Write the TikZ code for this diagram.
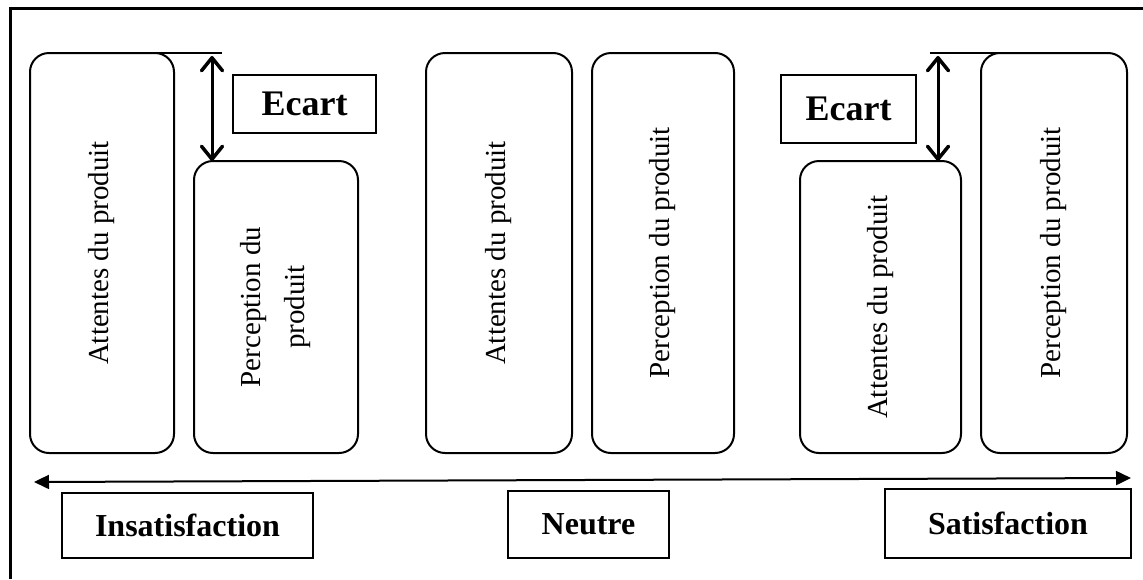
\documentclass[tikz,border=0pt]{standalone}
\usepackage{fontspec}
\setmainfont{Liberation Serif}
\usetikzlibrary{arrows.meta}
\begin{document}
\begin{tikzpicture}[x=1pt, y=-1pt,
  pill/.style={draw, line width=2pt, rounded corners=19pt, rotate=90,
    inner sep=0pt, align=center, font=\fontsize{29}{44}\selectfont},
  tag/.style={draw, line width=2pt, inner sep=0pt,
    font=\bfseries\fontsize{32}{38}\selectfont},
  gaptag/.style={tag, font=\bfseries\fontsize{36}{42}\selectfont},
  barb/.tip={Straight Barb[length=13pt,width=21pt,line width=3.5pt 0 0, round]},
  gap/.style={line width=3pt, barb-barb},
  axis/.style={line width=2pt,
    {Triangle[length=15pt,width=14pt]}-{Triangle[length=15pt,width=14pt]}},
  level/.style={line width=2pt}]
\useasboundingbox (0,0) rectangle (1143,579);

% frame (top and left edges)
\draw[line width=3pt, line join=miter] (1143,8.5) -- (10,8.5) -- (10,579);

% product boxes
\node[pill, minimum width=400pt, minimum height=144pt] (att1) at (102,253) {Attentes du produit};
\node[pill, minimum width=292pt, minimum height=164pt] (per1) at (276,307) {Perception du\\produit};
\node[pill, minimum width=400pt, minimum height=146pt] (att2) at (499,253) {Attentes du produit};
\node[pill, minimum width=400pt, minimum height=142pt] (per2) at (663,253) {Perception du produit};
\node[pill, minimum width=292pt, minimum height=161pt] (att3) at (880.5,307) {Attentes du produit};
\node[pill, minimum width=400pt, minimum height=146pt] (per3) at (1054,253) {Perception du produit};

% gap labels
\node[gaptag, minimum width=143pt, minimum height=58pt] (ecart1) at (304.5,104) {Ecart};
\node[gaptag, minimum width=135pt, minimum height=68pt] (ecart2) at (848.5,109) {Ecart};

% reference levels and gap arrows
\coordinate (l1a) at (145,53);
\coordinate (l1b) at (222,53);
\coordinate (l2a) at (930,53);
\coordinate (l2b) at (1007,53);
\draw[level] (l1a) -- (l1b);
\draw[level] (l2a) -- (l2b);
\coordinate (g1top) at (212,56);
\coordinate (g1bot) at (212,161);
\coordinate (g2top) at (938,56);
\coordinate (g2bot) at (938,161);
\draw[gap] (g1top) -- (g1bot);
\draw[gap] (g2top) -- (g2bot);

% satisfaction axis
\coordinate (axL) at (34,482);
\coordinate (axR) at (1131,478);
\draw[axis] (axL) -- (axR);

% axis labels
\node[tag, minimum width=251pt, minimum height=65pt] (insat) at (187.5,525.5) {Insatisfaction};
\node[tag, minimum width=161pt, minimum height=67pt] (neutre) at (588.5,524.5) {Neutre};
\node[tag, minimum width=246pt, minimum height=69pt] (sat) at (1008,523.5) {Satisfaction};
\end{tikzpicture}
\end{document}
